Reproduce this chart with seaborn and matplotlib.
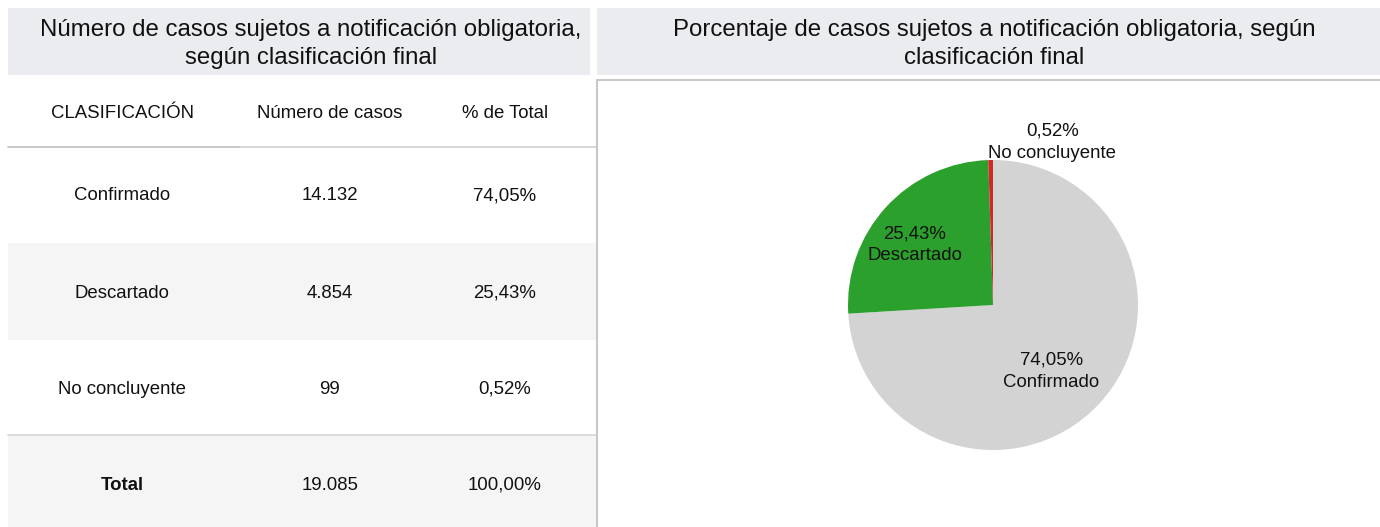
import numpy as np
import matplotlib
matplotlib.use("Agg")
import matplotlib.pyplot as plt
import seaborn as sns

# datos
categorias = ["Confirmado", "Descartado", "No concluyente"]
casos = [14132, 4854, 99]
porcentajes = [74.05, 25.43, 0.52]
total_casos = 19085
total_pct = 100.00
colores = ["#D3D3D3", "#2CA02C", "#D62728"]

titulo_izq = "Número de casos sujetos a notificación obligatoria,\nsegún clasificación final"
titulo_der = "Porcentaje de casos sujetos a notificación obligatoria, según\nclasificación final"
encabezados = ["CLASIFICACIÓN", "Número de casos", "% de Total"]


def fmt_num(n):
    return f"{n:,}".replace(",", ".")


def fmt_pct(p):
    return f"{p:.2f}%".replace(".", ",")


sns.set_theme(style="white")
plt.rcParams["font.family"] = ["Liberation Sans", "DejaVu Sans"]

W, H = 1380, 527
fig = plt.figure(figsize=(W / 100, H / 100), dpi=100)

# capa de fondo en pixeles
bg = fig.add_axes([0, 0, 1, 1])
bg.set_xlim(0, W)
bg.set_ylim(H, 0)
bg.axis("off")

# bandas de titulo
band = "#EBECF0"
bg.axvspan(8, 590, ymin=1 - 75 / H, ymax=1 - 8 / H, color=band, lw=0)
bg.axvspan(597, W, ymin=1 - 75 / H, ymax=1 - 8 / H, color=band, lw=0)
bg.text(311, 44, titulo_izq, ha="center", va="center", fontsize=17.3, color="#111111", linespacing=1.35)
bg.text(994, 44, titulo_der, ha="center", va="center", fontsize=17.3, color="#111111", linespacing=1.35)

# tabla
fs = 13.4
col_x = [122, 330, 505]
row_y = [196, 293, 389]
row_bg = ["white", "#F5F5F5", "white"]
row_edges = [148, 243, 340, 435]
for i in range(3):
    if row_bg[i] != "white":
        bg.fill_between([8, 596], row_edges[i], row_edges[i + 1], color=row_bg[i], lw=0)
bg.fill_between([8, 596], 435, H, color="#F5F5F5", lw=0)

for x, h in zip(col_x, encabezados):
    bg.text(x, 113, h, ha="center", va="center", fontsize=fs, color="#111111")
bg.plot([8, 240], [147, 147], color="#BDBDBD", lw=1.2)
bg.plot([240, 596], [147, 147], color="#D0D0D0", lw=1.2)
bg.plot([8, 596], [435, 435], color="#D5D5D5", lw=1.2)

for i, cat in enumerate(categorias):
    bg.text(col_x[0], row_y[i], cat, ha="center", va="center", fontsize=fs, color="#111111")
    bg.text(col_x[1], row_y[i], fmt_num(casos[i]), ha="center", va="center", fontsize=fs, color="#111111")
    bg.text(col_x[2], row_y[i], fmt_pct(porcentajes[i]), ha="center", va="center", fontsize=fs, color="#111111")
bg.text(col_x[0], 485, "Total", ha="center", va="center", fontsize=fs, fontweight="bold", color="#111111")
bg.text(col_x[1], 485, fmt_num(total_casos), ha="center", va="center", fontsize=fs, color="#111111")
bg.text(col_x[2], 485, fmt_pct(total_pct), ha="center", va="center", fontsize=fs, color="#111111")

# borde del panel derecho
bg.plot([597, 597], [80, H], color="#C8C8C8", lw=1.5)
bg.plot([597, W], [80, 80], color="#C8C8C8", lw=1.5)

# grafico de torta
cx, cy, r = 993, 305, 145
pie_ax = fig.add_axes([(cx - r) / W, 1 - (cy + r) / H, 2 * r / W, 2 * r / H])
wedges, _ = pie_ax.pie(porcentajes, colors=colores, startangle=90, counterclock=False,
                       wedgeprops=dict(linewidth=0))
pie_ax.set_xlim(-1, 1)
pie_ax.set_ylim(-1, 1)
pie_ax.set_aspect("equal")
pie_ax.axis("off")

dist = [0.62, 0.66]
for w, d, cat, p in zip(wedges[:2], dist, categorias, porcentajes):
    ang = np.deg2rad((w.theta1 + w.theta2) / 2)
    pie_ax.text(d * np.cos(ang) - 0.05, d * np.sin(ang) - 0.03, f"{fmt_pct(p)}\n{cat}",
                ha="center", va="center", fontsize=fs, color="#111111", linespacing=1.4)
pie_ax.text(0.41, 1.12, f"{fmt_pct(porcentajes[2])}\n{categorias[2]}",
            ha="center", va="center", fontsize=fs, color="#111111", linespacing=1.4)

fig.savefig("out.png", dpi=100)
